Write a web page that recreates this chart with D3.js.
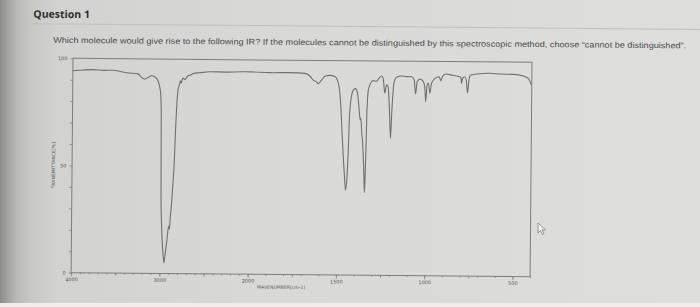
<!DOCTYPE html>
<html>
<head>
<meta charset="utf-8">
<script src="https://cdn.jsdelivr.net/npm/d3@7"></script>
<style>
  html, body { margin: 0; padding: 0; background: #d8d9d6; }
  svg { display: block; }
</style>
</head>
<body>
<svg id="chart" width="700" height="307"></svg>
<script>
// IR spectrum (wavenumber in cm-1, transmittance in %)
const wavenumbers = [
  4000, 3880, 3770, 3650, 3543, 3460, 3392, 3260, 3222, 3184, 3147, 3108, 3071, 3034,
  3014, 3003, 2995, 2992, 2988, 2980, 2972, 2963, 2954, 2950, 2932, 2918, 2909, 2898,
  2890, 2882, 2870, 2856, 2841, 2831, 2825, 2816, 2807, 2795, 2780, 2770, 2760, 2750,
  2730, 2712, 2694, 2655, 2637, 2561, 2448, 2259, 2071, 1997, 1884, 1770, 1685, 1657,
  1638, 1619, 1610, 1591, 1572, 1544, 1516, 1497, 1483, 1472, 1463, 1455, 1450, 1442,
  1436, 1431, 1421, 1408, 1397, 1387, 1378, 1370, 1367, 1359, 1355, 1350, 1346, 1343,
  1340, 1336, 1333, 1325, 1313, 1299, 1279, 1265, 1251, 1242, 1232, 1223, 1214, 1204,
  1198, 1191, 1181, 1166, 1138, 1110, 1081, 1066, 1058, 1049, 1034, 1019, 1006, 1000,
  993, 985, 977, 968, 949, 925, 915, 905, 883, 854, 826, 802, 798, 792, 779, 769, 764,
  756, 747, 713, 637, 581, 505, 449, 421, 402
];
const transmittance = [
  94.2, 94.6, 94.8, 94.5, 94.6, 94.0, 93.5, 93.0, 91.4, 90.6, 91.4, 92.2, 91.7, 89.9,
  86.8, 83.9, 76.0, 57.3, 34.3, 22.7, 15.7, 10.1, 6.4, 4.9, 11.0, 15.6, 19.4, 22.2,
  20.8, 26.4, 32.0, 41.4, 53.1, 67.0, 73.3, 81.0, 85.6, 87.5, 89.9, 88.8, 90.6, 91.2,
  90.5, 91.5, 92.3, 92.8, 93.4, 93.8, 94.3, 94.2, 94.4, 94.4, 94.1, 94.2, 93.9, 92.7,
  90.8, 90.0, 89.2, 90.8, 92.7, 93.1, 92.6, 90.0, 81.6, 66.2, 53.6, 44.3, 39.6, 45.8,
  58.3, 73.8, 83.2, 86.6, 87.0, 84.9, 78.6, 72.4, 73.3, 64.7, 61.7, 53.8, 45.6, 38.6,
  44.6, 58.6, 74.1, 86.6, 89.6, 90.8, 90.5, 92.0, 93.0, 92.0, 85.0, 88.9, 88.1, 75.8,
  64.0, 77.2, 89.7, 92.5, 93.1, 92.8, 92.8, 91.3, 84.8, 90.6, 91.7, 91.1, 88.2, 81.2,
  89.0, 89.8, 85.1, 89.8, 92.1, 92.9, 91.0, 93.2, 94.2, 93.7, 93.3, 92.7, 89.9, 92.2,
  93.0, 89.9, 85.5, 91.4, 93.8, 94.3, 94.7, 94.4, 94.3, 93.6, 92.5, 89.4
];

const xTickLabels = [4000, 3000, 2000, 1500, 1000, 500];
const xMidTicks = [3500, 2500, 1750, 1250, 750];
const yTickLabels = [0, 50, 100];

const questionTitle = "Question 1";
const questionText = "Which molecule would give rise to the following IR? If the molecules cannot be distinguished by this spectroscopic method, choose \u201ccannot be distinguished\u201d.";

const svg = d3.select("#chart");
const W = 700, H = 307;

// photo background: dark left edge fading into light grey
const defs = svg.append("defs");
const bg = defs.append("linearGradient").attr("id", "bg").attr("x1", 0).attr("x2", 1).attr("y1", 0).attr("y2", 0);
[
  [0, "#8c8c88"], [0.012, "#a6a6a2"], [0.025, "#bababa"], [0.045, "#c8c8c5"],
  [0.08, "#d2d3d0"], [0.35, "#d8d9d6"], [1, "#dedfdc"]
].forEach(([o, c]) => bg.append("stop").attr("offset", o).attr("stop-color", c));
svg.append("rect").attr("width", W).attr("height", H).attr("fill", "url(#bg)");
svg.append("rect").attr("x", 0).attr("y", 303).attr("width", W).attr("height", 4).attr("fill", "#eeeeec");

// the photo is a little tilted
const page = svg.append("g").attr("transform", "rotate(0.5,73,58)");

page.append("text")
  .attr("x", 33).attr("y", 18)
  .attr("font-family", "Open Sans")
  .attr("font-weight", "bold")
  .attr("font-size", 10.5)
  .attr("fill", "#2f2f2f")
  .text(questionTitle);

page.append("line")
  .attr("x1", 30).attr("x2", 720).attr("y1", 24).attr("y2", 24)
  .attr("stroke", "#bfc0bd").attr("stroke-width", 1);

page.append("text")
  .attr("x", 53).attr("y", 43)
  .attr("font-family", "Liberation Sans")
  .attr("font-size", 8.2)
  .attr("fill", "#4a4a4a")
  .attr("textLength", 633)
  .attr("lengthAdjust", "spacingAndGlyphs")
  .text(questionText);

// chart
const pLeft = 73, pRight = 532, pTop = 58.3, pBottom = 272.7;
const x = d3.scaleLinear().domain([4000, 2000, 400]).range([pLeft, 249.5, pRight]);
const y = d3.scaleLinear().domain([0, 100]).range([pBottom, pTop]);

const plot = page.append("g");
const axisColor = "#7d7d7b";
const labelColor = "#555";

plot.append("rect")
  .attr("x", pLeft).attr("y", pTop)
  .attr("width", pRight - pLeft).attr("height", pBottom - pTop)
  .attr("fill", "none").attr("stroke", axisColor).attr("stroke-width", 1);

// x axis: minor every 100, mid ticks, labelled ticks
const minor = d3.range(400, 4001, 100);
plot.append("g")
  .attr("transform", `translate(0,${pBottom})`)
  .call(d3.axisBottom(x).tickValues(minor).tickSize(1.5).tickFormat(""))
  .call((g) => g.select(".domain").remove());
plot.append("g")
  .attr("transform", `translate(0,${pBottom})`)
  .call(d3.axisBottom(x).tickValues(xMidTicks).tickSize(2.5).tickFormat(""))
  .call((g) => g.select(".domain").remove());
plot.append("g")
  .attr("transform", `translate(0,${pBottom})`)
  .call(d3.axisBottom(x).tickValues(xTickLabels).tickSize(3.5).tickPadding(1.5).tickFormat(d3.format("d")))
  .call((g) => g.select(".domain").remove());

// y axis
plot.append("g")
  .attr("transform", `translate(${pLeft},0)`)
  .call(d3.axisLeft(y).tickValues(d3.range(0, 101, 10)).tickSize(2.5).tickPadding(3)
    .tickFormat((d) => (yTickLabels.includes(d) ? d : "")))
  .call((g) => g.select(".domain").remove());

plot.selectAll(".tick line").attr("stroke", axisColor).attr("stroke-width", 0.8);
plot.selectAll(".tick text")
  .attr("font-family", "DejaVu Sans")
  .attr("font-size", 5)
  .attr("fill", labelColor);

plot.append("text")
  .attr("x", 283).attr("y", 287)
  .attr("text-anchor", "middle")
  .attr("font-family", "DejaVu Sans")
  .attr("font-size", 4.6)
  .attr("fill", labelColor)
  .text("WAVENUMBER[cm-1]");

plot.append("text")
  .attr("transform", `translate(56,${(pTop + pBottom) / 2}) rotate(-90)`)
  .attr("text-anchor", "middle")
  .attr("font-family", "DejaVu Sans")
  .attr("font-size", 4.6)
  .attr("fill", labelColor)
  .text("TRANSMITTANCE[%]");

// spectrum
const points = wavenumbers.map((w, i) => [w, transmittance[i]]);
const line = d3.line()
  .x((d) => x(d[0]))
  .y((d) => y(d[1]))
  .curve(d3.curveMonotoneX);

plot.append("path")
  .datum(points)
  .attr("d", line)
  .attr("fill", "none")
  .attr("stroke", "#707070")
  .attr("stroke-width", 1.1)
  .attr("stroke-linejoin", "round");

// mouse pointer left on the screen
svg.append("path")
  .attr("d", "M538,223 L538,233 L540.5,230.5 L542.5,234.5 L544,233.8 L542,229.8 L545.5,229.8 Z")
  .attr("fill", "#f2f2f0")
  .attr("stroke", "#777")
  .attr("stroke-width", 0.7);
</script>
</body>
</html>
